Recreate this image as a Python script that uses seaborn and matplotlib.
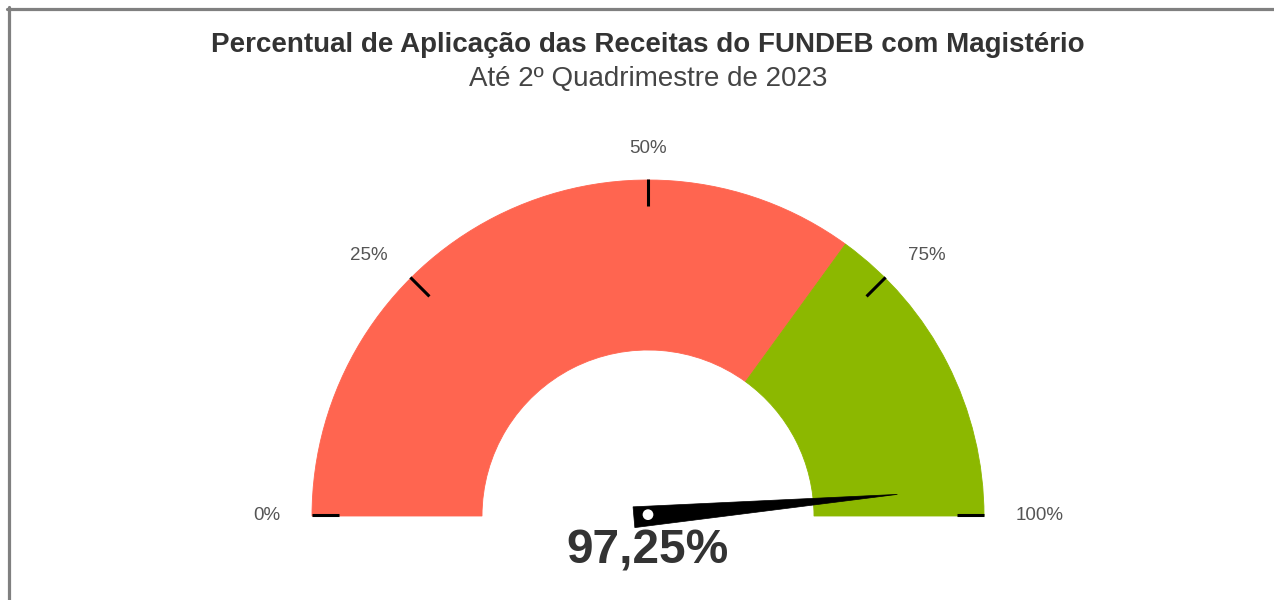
import numpy as np
import matplotlib
matplotlib.use("Agg")
import matplotlib.pyplot as plt
from matplotlib.patches import Wedge, Polygon, Circle
from matplotlib.lines import Line2D
import seaborn as sns

# ---- data ----
title = "Percentual de Aplicação das Receitas do FUNDEB com Magistério"
subtitle = "Até 2º Quadrimestre de 2023"
band_from = [0, 70]
band_to = [70, 100]
band_colors = ["#FF6550", "#8CB800"]
tick_values = [0, 25, 50, 75, 100]
tick_labels = ["0%", "25%", "50%", "75%", "100%"]
value = 97.25
value_label = "97,25%"

sns.set_theme(style="white")
plt.rcParams['font.family'] = ['Liberation Sans', 'DejaVu Sans']

W, H = 1274, 600
fig = plt.figure(figsize=(W / 100, H / 100), dpi=100)
fig.patch.set_facecolor("white")

# gauge geometry (pixels)
cx, cy = 648, 516          # centre, from top-left
R = 336.0                  # outer radius px
inner = 166.0 / R          # inner radius (fraction)

ax = fig.add_axes([0, 0, 1, 1])
ax.set_xlim(-cx / R, (W - cx) / R)
ax.set_ylim(-(H - cy) / R, cy / R)
ax.set_aspect("equal")
ax.axis("off")


def ang(v):
    return 180.0 - v * 1.8


for a, b, c in zip(band_from, band_to, band_colors):
    ax.add_patch(Wedge((0, 0), 1.0, ang(b), ang(a), width=1.0 - inner,
                       facecolor=c, edgecolor=c, lw=0.6, zorder=2))

for v, lab in zip(tick_values, tick_labels):
    t = np.deg2rad(ang(v))
    ct, st = np.cos(t), np.sin(t)
    ax.plot([0.92 * ct, 1.0 * ct], [0.92 * st + 0.003, 1.0 * st + 0.003],
            color="black", lw=2.2, solid_capstyle="butt", zorder=3)
    r = 1.095
    if abs(ct) < 0.05:
        ha = "center"
    elif ct < 0:
        ha = "right"
    else:
        ha = "left"
    ax.text(r * ct, r * st, lab, ha=ha, va="center", fontsize=13.5,
            color="#555555", zorder=4)

# needle
t = np.deg2rad(ang(value))
d = np.array([np.cos(t), np.sin(t)])
n = np.array([-np.sin(t), np.cos(t)])
tip = 0.745 * d
back = -0.042 * d
hw = 0.031
needle = Polygon([back + hw * n, back - hw * n, tip], closed=True,
                 facecolor="black", edgecolor="black", lw=0.5, zorder=5)
ax.add_patch(needle)
ax.add_patch(Circle((0, 0.004), 0.016, facecolor="white", edgecolor="none", zorder=6))

ax.text(0, -0.105, value_label, ha="center", va="center", fontsize=34.5,
        fontweight="bold", color="#333333", zorder=6)

fig.text(648 / W, 1 - 45 / H, title, ha="center", va="center", fontsize=20,
         fontweight="bold", color="#333333")
fig.text(648 / W, 1 - 79 / H, subtitle, ha="center", va="center", fontsize=20,
         color="#444444")

# frame lines (top and left)
fig.add_artist(Line2D([8.5 / W, 8.5 / W], [0, 1 - 7 / H], transform=fig.transFigure,
                      color="#808080", lw=2.3))
fig.add_artist(Line2D([7 / W, 1], [1 - 8.5 / H, 1 - 8.5 / H], transform=fig.transFigure,
                      color="#808080", lw=2.3))

fig.savefig("out.png", dpi=100, facecolor="white")
